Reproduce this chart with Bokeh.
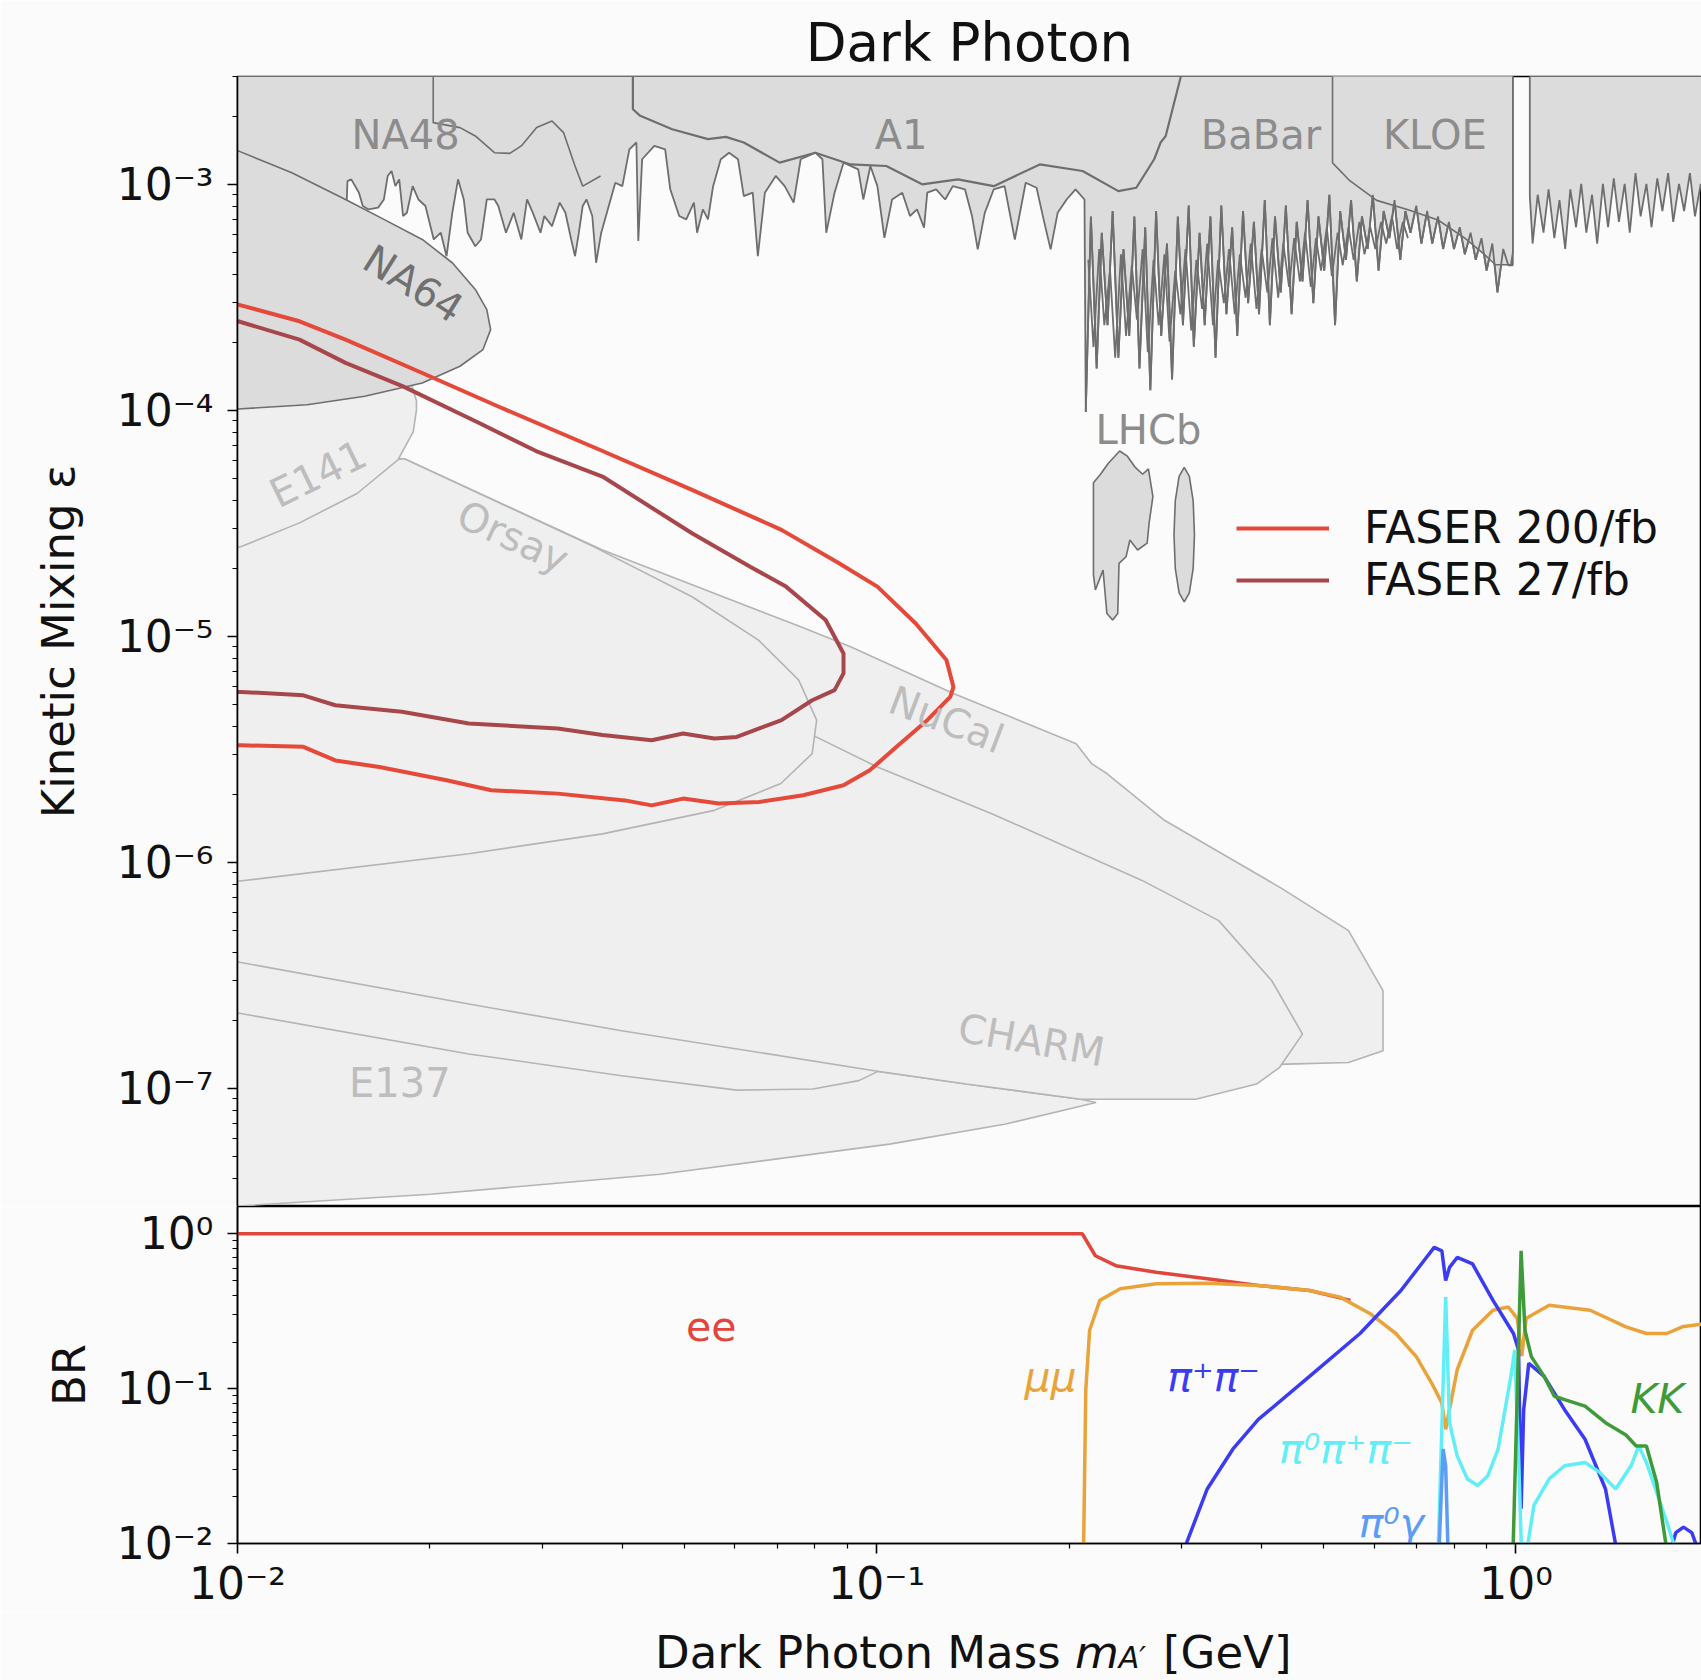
import numpy as np
from bokeh.plotting import figure
from bokeh.models import (FixedTicker, CustomJSTickFormatter, Label, Legend,
                          LegendItem, Range1d)
from bokeh.layouts import column
from bokeh.core.properties import value
from bokeh.embed import file_html
from bokeh.resources import INLINE

FONT = "DejaVu Sans"
BG = "#fbfbfb"

# ------------------------------------------------------------------
# DATA  (log10 of dark photon mass in GeV, log10 of epsilon / BR)
# ------------------------------------------------------------------
na64_logm = [-2.05, -1.999, -1.915, -1.831, -1.771, -1.711, -1.664, -1.628, -1.610, -1.604,
             -1.616, -1.652, -1.711, -1.801, -1.891, -1.999, -2.05]
na64_logeps = [-2.83, -2.852, -2.949, -3.067, -3.155, -3.244, -3.347, -3.465, -3.554, -3.643,
               -3.731, -3.805, -3.879, -3.938, -3.975, -3.994, -4.0]

e141_logm = [-2.05, -1.793, -1.729, -1.720, -1.720, -1.725, -1.749, -1.813, -1.903, -1.995, -2.05]
e141_logeps = [-3.839, -3.863, -3.873, -3.959, -3.998, -4.094, -4.219, -4.368, -4.498, -4.604, -4.633]

orsay_logm = [-2.05, -1.739, -1.443, -1.289, -1.185, -1.122, -1.094, -1.101, -1.150, -1.254,
              -1.429, -1.638, -2.000, -2.05]
orsay_logeps = [-4.296, -4.214, -4.603, -4.825, -5.017, -5.194, -5.371, -5.519, -5.651, -5.770,
                -5.874, -5.962, -6.084, -6.10]

nucal_logm = [-2.05, -1.739, -1.429, -1.119, -1.041, -0.880, -0.688, -0.664, -0.640, -0.550,
              -0.368, -0.262, -0.208, -0.208, -0.262, -0.358, -0.673, -0.843, -0.962, -0.999,
              -1.021, -1.182, -2.05]
nucal_logeps = [-4.20, -4.214, -4.618, -4.958, -5.046, -5.253, -5.475, -5.563, -5.607, -5.814,
                -6.113, -6.302, -6.568, -6.834, -6.886, -6.893, -6.916, -6.892, -6.878, -6.926,
                -7.036, -7.157, -7.253]

charm_logm = [-2.05, -1.522, -1.095, -0.999, -0.820, -0.585, -0.465, -0.382, -0.334, -0.370,
              -0.406, -0.501, -0.681, -0.860, -1.004, -1.399, -1.638, -1.997, -2.05]
charm_logeps = [-5.065, -5.161, -5.445, -5.578, -5.785, -6.080, -6.258, -6.524, -6.760, -6.908,
                -6.981, -7.048, -7.048, -6.981, -6.922, -6.745, -6.627, -6.442, -6.415]

e137_logm = [-2.031, -1.997, -1.638, -1.399, -1.219, -1.100, -1.028, -0.998, -0.860, -0.681,
             -0.657, -0.800, -0.980, -1.339, -1.698, -2.000, -2.031]
e137_logeps = [-6.651, -6.668, -6.848, -6.944, -7.008, -7.003, -6.966, -6.925, -6.981, -7.048,
               -7.063, -7.159, -7.247, -7.380, -7.469, -7.521, -7.54]

# noisy lower edge of the upper excluded band
band_noise_logm = [-1.828, -1.822, -1.810, -1.804, -1.795, -1.780, -1.771, -1.765, -1.759, -1.753,
                   -1.747, -1.741, -1.735, -1.726, -1.717, -1.706, -1.693, -1.682, -1.673, -1.664,
                   -1.655, -1.646, -1.640, -1.628, -1.619, -1.610, -1.598, -1.592, -1.580, -1.568,
                   -1.556, -1.547, -1.538, -1.526, -1.520, -1.508, -1.496, -1.487, -1.478, -1.472,
                   -1.466, -1.460, -1.454, -1.445, -1.439, -1.431,
                   -1.409, -1.398, -1.387, -1.376, -1.373, -1.367, -1.348, -1.331, -1.323, -1.309,
                   -1.298, -1.286, -1.281, -1.272, -1.264, -1.256, -1.244, -1.231, -1.217, -1.208,
                   -1.194, -1.186, -1.175, -1.158, -1.144, -1.130, -1.119, -1.096, -1.085, -1.079,
                   -1.066, -1.052, -1.029, -1.021, -1.010, -0.999, -0.988, -0.976, -0.960, -0.948,
                   -0.937, -0.926, -0.921, -0.907, -0.893, -0.881, -0.862, -0.851, -0.842, -0.831,
                   -0.817, -0.800, -0.784, -0.767, -0.750, -0.739, -0.728, -0.717, -0.703, -0.689,
                   -0.675]
band_noise_logeps = [-2.986, -2.978, -3.037, -3.096, -3.111, -3.103, -3.067, -2.963, -2.941, -3.008,
                     -2.978, -3.140, -3.126, -3.008, -3.067, -3.096, -3.244, -3.214, -3.318, -3.126,
                     -2.978, -3.067, -3.214, -3.274, -3.244, -3.067, -3.067, -3.096, -3.214, -3.126,
                     -3.244, -3.067, -3.126, -3.214, -3.140, -3.185, -3.081, -3.126, -3.244, -3.318,
                     -3.214, -3.096, -3.067, -3.140, -3.347, -3.214,
                     -2.993, -3.008, -2.845, -2.815, -3.251, -2.889, -2.830, -2.845, -3.022, -3.140,
                     -3.155, -3.081, -3.214, -3.111, -3.155, -3.008, -2.889, -2.860, -2.889, -3.052,
                     -3.037, -3.318, -3.037, -2.963, -3.008, -3.081, -2.889, -2.860, -2.889, -3.214,
                     -3.037, -2.904, -2.934, -3.067, -2.919, -3.008, -3.237, -3.067, -3.037, -3.140,
                     -3.111, -3.192, -3.037, -3.022, -3.067, -3.008, -3.022, -3.140, -3.288, -3.126,
                     -3.022, -3.008, -3.244, -2.993, -3.015, -3.155, -3.288, -3.126, -3.067, -3.022,
                     -3.067]

# LHCb prompt (dense noisy limit), two interleaved traces
lhcb_prompt_logm = [-0.673, -0.665, -0.656, -0.648, -0.639, -0.631, -0.622, -0.614, -0.605, -0.597,
                    -0.589, -0.580, -0.572, -0.563, -0.555, -0.546, -0.538, -0.529, -0.521, -0.512,
                    -0.504, -0.495, -0.487, -0.478, -0.470, -0.461, -0.453, -0.444, -0.436, -0.427,
                    -0.419, -0.410, -0.402, -0.393, -0.385, -0.377, -0.368, -0.360, -0.351, -0.343,
                    -0.334, -0.326, -0.317, -0.309, -0.300, -0.292, -0.283, -0.275, -0.266, -0.258,
                    -0.249, -0.241, -0.232, -0.224, -0.215, -0.207, -0.198, -0.190, -0.181, -0.173,
                    -0.165, -0.156, -0.148, -0.139, -0.131, -0.122, -0.114, -0.105, -0.097, -0.088,
                    -0.080, -0.071, -0.063, -0.054, -0.046, -0.037, -0.029, -0.020, -0.012]
lhcb_prompt_logeps = [-4.007, -3.142, -3.815, -3.214, -3.623, -3.118, -3.767, -3.286, -3.671, -3.142,
                      -3.815, -3.190, -3.911, -3.118, -3.671, -3.262, -3.863, -3.142, -3.623, -3.094,
                      -3.719, -3.214, -3.623, -3.142, -3.767, -3.094, -3.575, -3.190, -3.671, -3.118,
                      -3.526, -3.166, -3.575, -3.070, -3.623, -3.142, -3.478, -3.094, -3.575, -3.166,
                      -3.430, -3.070, -3.526, -3.142, -3.382, -3.046, -3.623, -3.118, -3.334, -3.070,
                      -3.430, -3.142, -3.286, -3.046, -3.382, -3.118, -3.238, -3.070, -3.334, -3.118,
                      -3.214, -3.094, -3.262, -3.118, -3.262, -3.142, -3.286, -3.166, -3.286, -3.190,
                      -3.310, -3.214, -3.334, -3.238, -3.382, -3.262, -3.478, -3.286, -3.358]
lhcb_prompt2_logm = [-0.669, -0.661, -0.652, -0.644, -0.635, -0.627, -0.618, -0.610, -0.601, -0.593,
                     -0.584, -0.576, -0.567, -0.559, -0.550, -0.542, -0.533, -0.525, -0.517, -0.508,
                     -0.500, -0.491, -0.483, -0.474, -0.466, -0.457, -0.449, -0.440, -0.432, -0.423,
                     -0.415, -0.406, -0.398, -0.389, -0.381, -0.372, -0.364, -0.355, -0.347, -0.338,
                     -0.330, -0.321, -0.313, -0.305, -0.296, -0.288, -0.279, -0.271, -0.262, -0.254,
                     -0.245, -0.237, -0.228, -0.220, -0.211, -0.203, -0.194, -0.186, -0.177, -0.169]
lhcb_prompt2_logeps = [-3.334, -3.719, -3.286, -3.623, -3.382, -3.767, -3.310, -3.671, -3.358, -3.599,
                       -3.286, -3.743, -3.334, -3.623, -3.310, -3.695, -3.382, -3.575, -3.286, -3.647,
                       -3.334, -3.551, -3.262, -3.623, -3.334, -3.526, -3.286, -3.575, -3.310, -3.502,
                       -3.262, -3.551, -3.286, -3.478, -3.238, -3.502, -3.262, -3.454, -3.238, -3.430,
                       -3.214, -3.454, -3.238, -3.382, -3.190, -3.406, -3.214, -3.358, -3.190, -3.334,
                       -3.166, -3.310, -3.190, -3.286, -3.166, -3.262, -3.142, -3.286, -3.166, -3.238]

# region above the phi mass (right of the gap)
band_right_logm = [0.026, 0.034, 0.043, 0.051, 0.060, 0.068, 0.077, 0.085, 0.094, 0.102, 0.110,
                   0.119, 0.127, 0.136, 0.144, 0.153, 0.161, 0.170, 0.178, 0.187, 0.195, 0.204,
                   0.212, 0.221, 0.229, 0.238, 0.246, 0.255, 0.263, 0.272, 0.280, 0.289, 0.297]
band_right_logeps = [-3.262, -3.046, -3.214, -3.022, -3.238, -3.070, -3.286, -3.022, -3.190, -2.998,
                     -3.214, -3.046, -3.262, -2.998, -3.190, -2.974, -3.166, -2.998, -3.214, -2.950,
                     -3.142, -2.998, -3.190, -2.974, -3.118, -2.950, -3.166, -2.998, -3.118, -2.950,
                     -3.142, -2.998, -3.118]

kloe_logm = [-0.287, -0.287, -0.260, -0.218, -0.170, -0.122, -0.080, -0.050, -0.032, -0.008, -0.005, -0.005]
kloe_logeps = [-2.4, -2.905, -2.984, -3.071, -3.111, -3.158, -3.238, -3.309, -3.356, -3.356, -3.30, -2.4]

na48_logm = [-1.6938, -1.6938, -1.652, -1.628, -1.598, -1.574, -1.556, -1.532, -1.508, -1.490,
             -1.472, -1.460, -1.432]
na48_logeps = [-2.4, -2.727, -2.749, -2.786, -2.860, -2.863, -2.830, -2.749, -2.720, -2.771,
               -2.919, -3.008, -2.963]

a1_logm = [-1.3815, -1.3815, -1.370, -1.320, -1.264, -1.236, -1.208, -1.152, -1.096, -1.041,
           -0.985, -0.929, -0.873, -0.817, -0.745, -0.678, -0.622, -0.594, -0.566, -0.556,
           -0.548, -0.524, -0.520]
a1_logeps = [-2.4, -2.668, -2.697, -2.756, -2.800, -2.790, -2.815, -2.904, -2.860, -2.912,
             -2.919, -3.000, -2.978, -3.008, -2.912, -2.941, -3.030, -3.015, -2.889, -2.815,
             -2.786, -2.520, -2.4]

lhcb_disp1_logm = [-0.661, -0.650, -0.638, -0.620, -0.608, -0.596, -0.584, -0.575, -0.568, -0.574,
                   -0.577, -0.592, -0.604, -0.610, -0.621, -0.623, -0.631, -0.640, -0.646, -0.658, -0.661]
lhcb_disp1_logeps = [-4.320, -4.283, -4.235, -4.180, -4.203, -4.251, -4.283, -4.259, -4.382, -4.500,
                     -4.588, -4.618, -4.574, -4.648, -4.677, -4.899, -4.928, -4.899, -4.707, -4.795, -4.728]
lhcb_disp2_logm = [-0.503, -0.505, -0.511, -0.519, -0.527, -0.533, -0.535, -0.533, -0.527, -0.519, -0.511, -0.505]
lhcb_disp2_logeps = [-4.550, -4.401, -4.292, -4.252, -4.292, -4.401, -4.550, -4.699, -4.808, -4.848, -4.808, -4.699]

faser200_logm = [-2.01, -1.999, -1.903, -1.831, -1.711, -1.592, -1.429, -1.289, -1.149, -1.059,
                 -0.999, -0.939, -0.891, -0.880, -0.885, -0.921, -0.969, -1.011, -1.052, -1.115,
                 -1.184, -1.247, -1.303, -1.352, -1.394, -1.499, -1.603, -1.673, -1.778, -1.847,
                 -1.897, -1.994, -2.01]
faser200_logeps = [-3.525, -3.532, -3.606, -3.687, -3.835, -3.983, -4.180, -4.352, -4.529, -4.677,
                   -4.780, -4.943, -5.105, -5.224, -5.268, -5.371, -5.489, -5.593, -5.659, -5.703,
                   -5.733, -5.740, -5.718, -5.748, -5.726, -5.696, -5.681, -5.637, -5.578, -5.549,
                   -5.489, -5.482, -5.482]
faser27_logm = [-2.01, -1.999, -1.903, -1.831, -1.741, -1.622, -1.533, -1.429, -1.289, -1.198,
                -1.142, -1.080, -1.052, -1.052, -1.066, -1.101, -1.149, -1.219, -1.254, -1.303,
                -1.352, -1.429, -1.499, -1.638, -1.743, -1.847, -1.897, -1.994, -2.01]
faser27_logeps = [-3.598, -3.606, -3.687, -3.790, -3.894, -4.056, -4.180, -4.293, -4.544, -4.692,
                  -4.780, -4.928, -5.076, -5.164, -5.238, -5.283, -5.371, -5.445, -5.452, -5.430,
                  -5.460, -5.437, -5.408, -5.386, -5.334, -5.305, -5.261, -5.246, -5.246]

# branching ratios (log10)
ee_logm = [-2.05, -0.6785, -0.658, -0.626, -0.563, -0.483, -0.403, -0.323, -0.259]
ee_logbr = [0.0, 0.0, -0.142, -0.206, -0.249, -0.291, -0.334, -0.366, -0.430]
mumu_logm = [-0.677, -0.673, -0.667, -0.651, -0.619, -0.563, -0.483, -0.403, -0.323, -0.275,
             -0.228, -0.188, -0.156, -0.132, -0.116, -0.110, -0.092, -0.068, -0.036, -0.012,
             0.002, 0.009, 0.016, 0.052, 0.116, 0.172, 0.204, 0.236, 0.260, 0.297]
mumu_logbr = [-2.2, -1.007, -0.623, -0.430, -0.355, -0.323, -0.319, -0.334, -0.366, -0.409,
              -0.516, -0.644, -0.793, -0.964, -1.092, -1.263, -0.878, -0.623, -0.494, -0.473,
              -0.546, -0.789, -0.546, -0.462, -0.494, -0.601, -0.644, -0.644, -0.601, -0.580]
pipi_logm = [-0.525, -0.483, -0.443, -0.403, -0.323, -0.244, -0.180, -0.148, -0.128, -0.116,
             -0.110, -0.104, -0.092, -0.068, -0.036, -0.004, 0.004, 0.008, 0.012, 0.020,
             0.044, 0.076, 0.108, 0.140, 0.160]
pipi_logbr = [-2.1, -1.648, -1.391, -1.199, -0.921, -0.644, -0.366, -0.195, -0.088, -0.110,
              -0.302, -0.217, -0.153, -0.195, -0.430, -0.644, -0.751, -1.776, -1.136, -0.836,
              -0.921, -1.136, -1.327, -1.648, -2.1]
pipi_hi_logm = [0.238, 0.250, 0.262, 0.275, 0.290]
pipi_hi_logbr = [-2.1, -1.93, -1.894, -1.93, -2.1]
pi3_logm = [-0.122, -0.110, -0.104, -0.092, -0.076, -0.060, -0.044, -0.028, -0.008, -0.002,
            0.004, 0.009, 0.015, 0.028, 0.052, 0.076, 0.108, 0.131, 0.156, 0.180,
            0.192, 0.204, 0.236, 0.254]
pi3_logbr = [-2.1, -0.409, -1.220, -1.434, -1.583, -1.626, -1.562, -1.391, -0.921, -0.751,
             -1.434, -2.1, -2.1, -1.754, -1.583, -1.498, -1.477, -1.541, -1.648, -1.498,
             -1.370, -1.477, -1.861, -2.1]
pi0g_logm = [-0.121, -0.114, -0.110, -0.106]
pi0g_logbr = [-2.1, -1.39, -1.50, -2.1]
kk_logm = [-0.005, 0.008, 0.014, 0.024, 0.044, 0.060, 0.076, 0.108, 0.140, 0.172, 0.188, 0.204, 0.220, 0.238]
kk_logbr = [-2.1, -0.110, -0.623, -0.793, -0.921, -1.049, -1.071, -1.113, -1.220, -1.299, -1.370, -1.370, -1.605, -2.1]

x_major = [0.01, 0.1, 1.0]
eps_major = [1e-7, 1e-6, 1e-5, 1e-4, 1e-3]
br_major = [0.01, 0.1, 1.0]


def P(a):
    return [10.0 ** v for v in a]


def minors(lo_exp, hi_exp):
    return [k * 10.0 ** e for e in range(lo_exp, hi_exp + 1) for k in range(2, 10)]


sup_fmt = CustomJSTickFormatter(code="""
const s = {"-":"\\u207b","0":"\\u2070","1":"\\u00b9","2":"\\u00b2","3":"\\u00b3","4":"\\u2074",
           "5":"\\u2075","6":"\\u2076","7":"\\u2077","8":"\\u2078","9":"\\u2079"};
const e = Math.round(Math.log10(tick));
return "10" + String(e).split("").map(c => s[c]).join("");
""")

x_range = Range1d(0.01, 1.9507)


def style_axis(ax):
    ax.axis_line_color = "black"
    ax.axis_line_width = 1.6
    ax.major_tick_line_color = "black"
    ax.major_tick_line_width = 1.6
    ax.minor_tick_line_color = "black"
    ax.minor_tick_line_width = 1.2
    ax.major_tick_out = 10
    ax.major_tick_in = 0
    ax.minor_tick_out = 5
    ax.minor_tick_in = 0
    ax.major_label_text_font = FONT
    ax.major_label_text_font_size = "44px"
    ax.major_label_text_color = "#111111"
    ax.major_label_standoff = 14
    ax.axis_label_text_font = FONT
    ax.axis_label_text_font_size = "45px"
    ax.axis_label_text_font_style = "normal"
    ax.axis_label_text_color = "#111111"
    ax.formatter = sup_fmt


# ------------------------------------------------------------------
# TOP PANEL
# ------------------------------------------------------------------
top = figure(width=1701, height=1206, x_axis_type="log", y_axis_type="log",
             x_range=x_range, y_range=Range1d(3e-8, 3e-3), x_axis_location=None,
             output_backend="svg", toolbar_location=None, title="Dark Photon",
             min_border_left=237, min_border_right=0, min_border_top=76, min_border_bottom=0,
             background_fill_color=BG, border_fill_color=BG,
             outline_line_color="black", outline_line_width=1.6)
top.grid.visible = False
top.title.text_font = FONT
top.title.text_font_size = "53px"
top.title.text_font_style = "normal"
top.title.text_color = "#111111"
top.title.align = "center"
top.title.standoff = 8

style_axis(top.yaxis[0])
top.yaxis[0].ticker = FixedTicker(ticks=eps_major, minor_ticks=minors(-8, -3))
top.yaxis[0].axis_label = "Kinetic Mixing ε"
top.yaxis[0].axis_label_standoff = 29

LIGHT_FILL, LIGHT_EDGE = "#efefef", "#b4b4b4"
DARK_FILL, DARK_EDGE = "#dcdcdc", "#6e6e6e"

for lm, le in [(nucal_logm, nucal_logeps), (e137_logm, e137_logeps),
               (charm_logm, charm_logeps), (orsay_logm, orsay_logeps),
               (e141_logm, e141_logeps)]:
    top.patch(P(lm), P(le), fill_color=LIGHT_FILL, line_color=LIGHT_EDGE, line_width=1.6)

band_left_logm = [-2.05, -2.05, -1.830] + band_noise_logm + lhcb_prompt_logm + [-0.005, -0.005]
band_left_logeps = [-2.4, -3.142, -3.142] + band_noise_logeps + lhcb_prompt_logeps + [-3.358, -2.4]
top.patch(P(band_left_logm), P(band_left_logeps), fill_color=DARK_FILL, line_color=DARK_EDGE, line_width=1.8)

br_m = [0.0216, 0.0216] + band_right_logm + [0.31, 0.31]
br_e = [-2.4, -3.05] + band_right_logeps + [-3.0, -2.4]
top.patch(P(br_m), P(br_e), fill_color=DARK_FILL, line_color=DARK_EDGE, line_width=1.8)

top.patch(P(kloe_logm), P(kloe_logeps), fill_color=DARK_FILL, line_color=DARK_EDGE, line_width=1.6)
top.line(P(lhcb_prompt_logm), P(lhcb_prompt_logeps), line_color=DARK_EDGE, line_width=1.8)
top.line(P(lhcb_prompt2_logm), P(lhcb_prompt2_logeps), line_color=DARK_EDGE, line_width=1.8)
top.line(P(na48_logm), P(na48_logeps), line_color=DARK_EDGE, line_width=1.6)
top.line(P(a1_logm), P(a1_logeps), line_color=DARK_EDGE, line_width=2.2)

top.patch(P(na64_logm), P(na64_logeps), fill_color=DARK_FILL, line_color=DARK_EDGE, line_width=1.6)
top.patch(P(lhcb_disp1_logm), P(lhcb_disp1_logeps), fill_color=DARK_FILL, line_color=DARK_EDGE, line_width=1.6)
top.patch(P(lhcb_disp2_logm), P(lhcb_disp2_logeps), fill_color=DARK_FILL, line_color=DARK_EDGE, line_width=1.6)

r200 = top.line(P(faser200_logm), P(faser200_logeps), line_color="#e5493a", line_width=4)
r27 = top.line(P(faser27_logm), P(faser27_logeps), line_color="#a8474b", line_width=4)

# region labels
reg_text = ["NA48", "A1", "BaBar", "KLOE", "LHCb"]
reg_logm = [-1.737, -0.962, -0.399, -0.127, -0.575]
reg_logeps = [-2.781, -2.781, -2.781, -2.781, -4.089]
top.text(P(reg_logm), P(reg_logeps), text=reg_text, text_font=value(FONT), text_font_size="40px",
         text_color="#8c8c8c", text_align="center", text_baseline="middle")
top.text(P([-1.725]), P([-3.440]), text=["NA64"], text_font=value(FONT), text_font_size="40px",
         text_color="#707070", text_align="center", text_baseline="middle", angle=-32, angle_units="deg")
low_text = ["E141", "Orsay", "NuCal", "CHARM", "E137"]
low_logm = [-1.874, -1.569, -0.891, -0.758, -1.746]
low_logeps = [-4.281, -4.560, -5.368, -6.786, -6.978]
low_angle = [26, -25, -21, -10, 0]
top.text(P(low_logm), P(low_logeps), text=low_text, angle=low_angle, angle_units="deg",
         text_font=value(FONT), text_font_size="40px", text_color="#bdbdbd",
         text_align="center", text_baseline="middle")

for label, rend, y in [("FASER 200/fb", r200, 653), ("FASER 27/fb", r27, 601)]:
    lg = Legend(items=[LegendItem(label=label, renderers=[rend])], location=(999, y),
                label_text_font=FONT, label_text_font_size="44px", label_text_color="#111111",
                glyph_width=93, glyph_height=30, label_standoff=35, padding=0, margin=0, spacing=0,
                border_line_color=None, background_fill_alpha=0)
    top.add_layout(lg)

# ------------------------------------------------------------------
# BOTTOM PANEL
# ------------------------------------------------------------------
bot = figure(width=1701, height=405, x_axis_type="log", y_axis_type="log",
             x_range=x_range, y_range=Range1d(0.01, 1.5),
             output_backend="svg", toolbar_location=None,
             min_border_left=237, min_border_right=0, min_border_top=0, min_border_bottom=66,
             background_fill_color=BG, border_fill_color=BG,
             outline_line_color="black", outline_line_width=1.6)
bot.grid.visible = False
style_axis(bot.yaxis[0])
bot.yaxis[0].ticker = FixedTicker(ticks=br_major, minor_ticks=minors(-2, 0))
bot.yaxis[0].axis_label = "BR"
bot.yaxis[0].axis_label_standoff = 18
style_axis(bot.xaxis[0])
bot.xaxis[0].ticker = FixedTicker(ticks=x_major, minor_ticks=minors(-2, 0))
bot.xaxis[0].major_label_standoff = 4

bot.line(P(ee_logm), P(ee_logbr), line_color="#e0463b", line_width=3.5)
bot.line(P(mumu_logm), P(mumu_logbr), line_color="#e9a33b", line_width=3.5)
bot.line(P(pipi_logm), P(pipi_logbr), line_color="#3b3bf2", line_width=3.5)
bot.line(P(pipi_hi_logm), P(pipi_hi_logbr), line_color="#3b3bf2", line_width=3.5)
bot.line(P(pi3_logm), P(pi3_logbr), line_color="#62eef6", line_width=3.5)
bot.line(P(pi0g_logm), P(pi0g_logbr), line_color="#5c9cf5", line_width=3.5)
bot.line(P(kk_logm), P(kk_logbr), line_color="#3f9a3a", line_width=3.5)

br_lab = ["ee", "μμ", "π⁺π⁻", "π⁰π⁺π⁻", "π⁰γ", "KK"]
br_lab_logm = [-1.259, -0.728, -0.473, -0.266, -0.195, 0.221]
br_lab_logbr = [-0.594, -0.928, -0.928, -1.393, -1.866, -1.067]
br_lab_col = ["#e0463b", "#e9a33b", "#3b3bf2", "#62eef6", "#5c9cf5", "#3f9a3a"]
br_lab_style = ["normal", "italic", "italic", "italic", "italic", "italic"]
bot.text(P(br_lab_logm), P(br_lab_logbr), text=br_lab, text_color=br_lab_col,
         text_font_style=br_lab_style, text_font=value(FONT), text_font_size="41px",
         text_align="center", text_baseline="middle")

# ------------------------------------------------------------------
# X-AXIS TITLE STRIP (italic m with subscript A')
# ------------------------------------------------------------------
xlab = figure(width=1701, height=69, x_range=(0, 1), y_range=(0, 1),
              x_axis_location=None, y_axis_location=None,
              output_backend="svg", toolbar_location=None,
              min_border_left=0, min_border_right=0, min_border_top=0, min_border_bottom=0,
              background_fill_color=BG, border_fill_color=BG, outline_line_color=None)
xlab.grid.visible = False
for txt, x, y, size, style in [("Dark Photon Mass", 417.5, 28, "45px", "normal"),
                               ("m", 837.5, 28, "45px", "italic"),
                               ("A′", 881.3, 23, "30px", "italic"),
                               ("[GeV]", 925.5, 28, "45px", "normal")]:
    xlab.add_layout(Label(x=x, y=y, x_units="screen", y_units="screen", text=txt,
                          text_font=FONT, text_font_size=size, text_font_style=style,
                          text_color="#111111", text_align="left", text_baseline="alphabetic"))

layout = column(top, bot, xlab, spacing=0)
open("out.html", "w").write(file_html(layout, INLINE, "Dark Photon"))
